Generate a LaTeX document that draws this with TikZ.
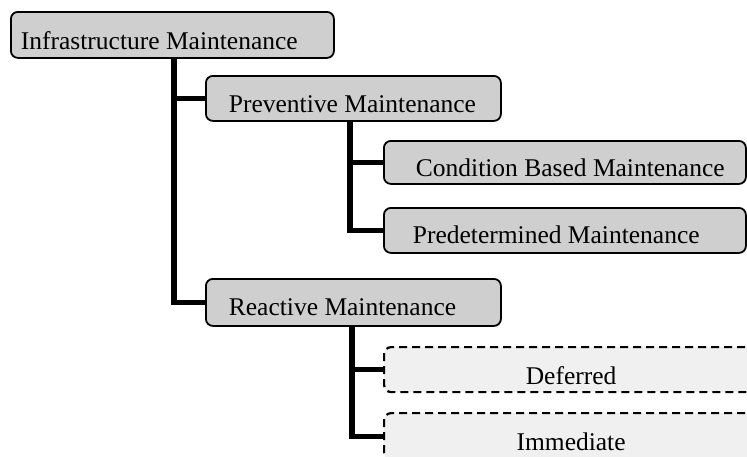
\documentclass[tikz,border=0pt]{standalone}
\usepackage{fontspec}
\setmainfont{Liberation Serif}
\newcommand{\lbox}[3]{\makebox[#1pt][l]{\hspace*{#2pt}#3}}
\begin{document}
\begin{tikzpicture}[x=1pt,y=-1pt,
  solidbox/.style={draw=black, line width=1.8pt, rounded corners=7pt, fill=gray!38,
    inner sep=0pt, anchor=north west, font=\fontsize{25.5}{30}\selectfont},
  dashbox/.style={draw=black, line width=2.2pt, dash pattern=on 8pt off 5pt, rounded corners=7pt, fill=gray!12,
    inner sep=0pt, anchor=north west, font=\fontsize{25.5}{30}\selectfont},
  conn/.style={line width=5.5pt, draw=black}
]
\useasboundingbox (0,0) rectangle (747,456);
\clip (0,0) rectangle (747,456);

\node[solidbox, text height=38pt, text depth=8pt]
  (inf) at (10,11) {\lbox{323}{10}{Infrastructure Maintenance}};
\node[solidbox, text height=37pt, text depth=8pt]
  (prev) at (205,75) {\lbox{295}{23}{Preventive Maintenance}};
\node[solidbox, text height=36pt, text depth=7pt]
  (cond) at (383,140) {\lbox{362}{32}{Condition Based Maintenance}};
\node[solidbox, text height=36pt, text depth=9pt]
  (pred) at (383,207) {\lbox{362}{29}{Predetermined Maintenance}};
\node[solidbox, text height=37pt, text depth=10pt]
  (rea) at (205,278) {\lbox{295}{23}{Reactive Maintenance}};
\node[dashbox, text height=37pt, text depth=8pt]
  (def) at (383,346) {\makebox[374pt][c]{Deferred}\hspace*{20pt}};
\node[dashbox, text height=37pt, text depth=10pt]
  (imm) at (383,412) {\makebox[374pt][c]{Immediate}\hspace*{20pt}};

\coordinate (k1) at (174,0);
\coordinate (k2) at (350,0);
\coordinate (k3) at (352,0);

\draw[conn] (k1 |- inf.south) |- (prev.west);
\draw[conn] (k1 |- inf.south) |- (rea.west);
\draw[conn] (k2 |- prev.south) |- (cond.west);
\draw[conn] (k2 |- prev.south) |- (pred.west);
\draw[conn] (k3 |- rea.south) |- (def.west);
\draw[conn] (k3 |- rea.south) |- (imm.west);
\end{tikzpicture}
\end{document}
